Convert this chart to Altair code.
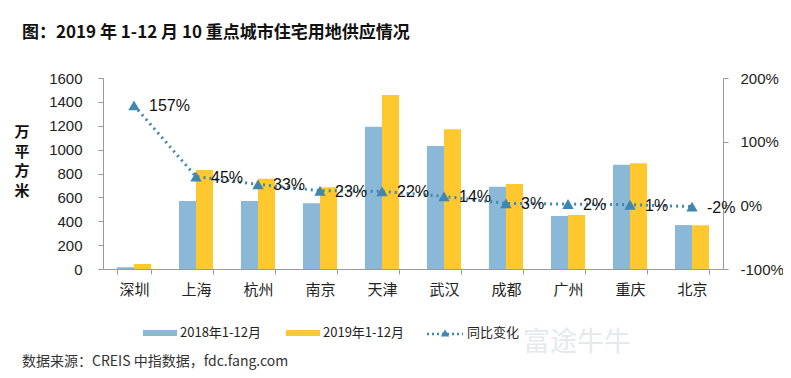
import altair as alt
import pandas as pd

cities = ["深圳", "上海", "杭州", "南京", "天津", "武汉", "成都", "广州", "重庆", "北京"]
supply_2018 = [15, 570, 570, 550, 1192, 1030, 689, 444, 874, 368]
supply_2019 = [42, 829, 756, 684, 1457, 1170, 712, 452, 885, 366]
yoy_pct = [157, 45, 33, 23, 22, 14, 3, 2, 1, -2]
series_names = ["2018年1-12月", "2019年1-12月"]
line_name = "同比变化"

BLUE = "#8BB8D6"
YELLOW = "#FFC82F"
LINE = "#3F86B0"
FONT = "Liberation Sans"
CJK = "Noto Sans CJK SC"

rows = []
for c, a, b in zip(cities, supply_2018, supply_2019):
    rows.append({"city": c, "series": series_names[0], "value": a})
    rows.append({"city": c, "series": series_names[1], "value": b})
bars_df = pd.DataFrame(rows)
line_df = pd.DataFrame({"city": cities, "pct": yoy_pct,
                        "label": [f"{v}%" for v in yoy_pct]})

xscale = alt.Scale(domain=cities, paddingInner=0.45, paddingOuter=0.225)
xaxis = alt.Axis(title=None, labelFont=CJK, labelFontSize=15, labelColor="#222",
                 labelPadding=8, tickBand="extent", tickSize=5, tickColor="#999",
                 domainColor="#999", labelAngle=0)

bars = alt.Chart(bars_df).mark_bar().encode(
    x=alt.X("city:N", scale=xscale, axis=xaxis, sort=cities),
    xOffset=alt.XOffset("series:N", sort=series_names),
    y=alt.Y("value:Q", scale=alt.Scale(domain=[0, 1600]),
            axis=alt.Axis(title=None, values=list(range(0, 1601, 200)), grid=False,
                          format="d",
                          labelFont=FONT, labelFontSize=15, labelColor="#222",
                          tickSize=5, tickColor="#999", domainColor="#999",
                          labelPadding=16)),
    color=alt.Color("series:N", scale=alt.Scale(domain=series_names, range=[BLUE, YELLOW]),
                    legend=None),
)

yr = alt.Scale(domain=[-100, 200])
line = alt.Chart(line_df).mark_line(color=LINE, strokeWidth=3, strokeDash=[2, 4]).encode(
    x=alt.X("city:N", scale=xscale, sort=cities),
    y=alt.Y("pct:Q", scale=yr,
            axis=alt.Axis(orient="right", title=None, values=[-100, 0, 100, 200], grid=False,
                          labelExpr="datum.value + '%'", labelFont=FONT, labelFontSize=15,
                          labelColor="#222", tickSize=5, tickColor="#999",
                          domainColor="#999", labelPadding=12)),
)
pts = alt.Chart(line_df).mark_point(shape="triangle-up", filled=True, size=130,
                                     color=LINE, opacity=1).encode(
    x=alt.X("city:N", scale=xscale, sort=cities),
    y=alt.Y("pct:Q", scale=yr),
)
labels = alt.Chart(line_df).mark_text(align="left", baseline="middle", dx=15, dy=1,
                                       font=FONT, fontSize=16, color="#111").encode(
    x=alt.X("city:N", scale=xscale, sort=cities),
    y=alt.Y("pct:Q", scale=yr),
    text="label:N",
)

right = alt.layer(line, pts, labels)

one = pd.DataFrame({"k": [0]})
base = alt.Chart(one)

title = base.mark_text(align="left", baseline="middle", font=CJK, fontSize=17,
                       fontWeight="bold", color="#111").encode(
    x=alt.value(-81), y=alt.value(-45),
    text=alt.value("图：2019 年 1-12 月 10 重点城市住宅用地供应情况"))

ytitle = base.mark_text(align="center", baseline="middle", font=CJK, fontSize=15,
                        fontWeight="bold", color="#111", lineHeight=19.5).encode(
    x=alt.value(-81), y=alt.value(54),
    text=alt.value(["万", "平", "方", "米"]))

leg_rect1 = base.mark_rect(color=BLUE).encode(
    x=alt.value(40), x2=alt.value(74), y=alt.value(252), y2=alt.value(258))
leg_txt1 = base.mark_text(align="left", baseline="middle", font=CJK, fontSize=13,
                          color="#222").encode(
    x=alt.value(77), y=alt.value(255), text=alt.value(series_names[0]))
leg_rect2 = base.mark_rect(color=YELLOW).encode(
    x=alt.value(183), x2=alt.value(217), y=alt.value(252), y2=alt.value(258))
leg_txt2 = base.mark_text(align="left", baseline="middle", font=CJK, fontSize=13,
                          color="#222").encode(
    x=alt.value(220), y=alt.value(255), text=alt.value(series_names[1]))
leg_line = base.mark_rule(color=LINE, strokeWidth=2.5, strokeDash=[2, 3]).encode(
    x=alt.value(324), x2=alt.value(360), y=alt.value(256))
leg_pt = base.mark_point(shape="triangle-up", filled=True, size=70, color=LINE,
                         opacity=1).encode(x=alt.value(342), y=alt.value(255))
leg_txt3 = base.mark_text(align="left", baseline="middle", font=CJK, fontSize=13,
                          color="#222").encode(
    x=alt.value(364), y=alt.value(255), text=alt.value(line_name))

watermark = base.mark_text(align="left", baseline="middle", font=CJK, fontSize=27,
                           color="#E6E9EC").encode(
    x=alt.value(420), y=alt.value(265), text=alt.value("富途牛牛"))

source = base.mark_text(align="left", baseline="middle", font=CJK, fontSize=14,
                        color="#333").encode(
    x=alt.value(-81), y=alt.value(284),
    text=alt.value("数据来源：CREIS 中指数据，fdc.fang.com"))

chart = alt.layer(
    bars, right, title, ytitle, leg_rect1, leg_txt1, leg_rect2, leg_txt2,
    leg_line, leg_pt, leg_txt3, watermark, source
).resolve_scale(y="independent").properties(
    width=620, height=191,
    autosize=alt.AutoSizeParams(type="none"),
    padding={"left": 95, "top": 70, "right": 60, "bottom": 101},
    background="white",
).configure_view(stroke=None)

chart.save("out.html", embed_options={"renderer": "svg", "actions": False})
